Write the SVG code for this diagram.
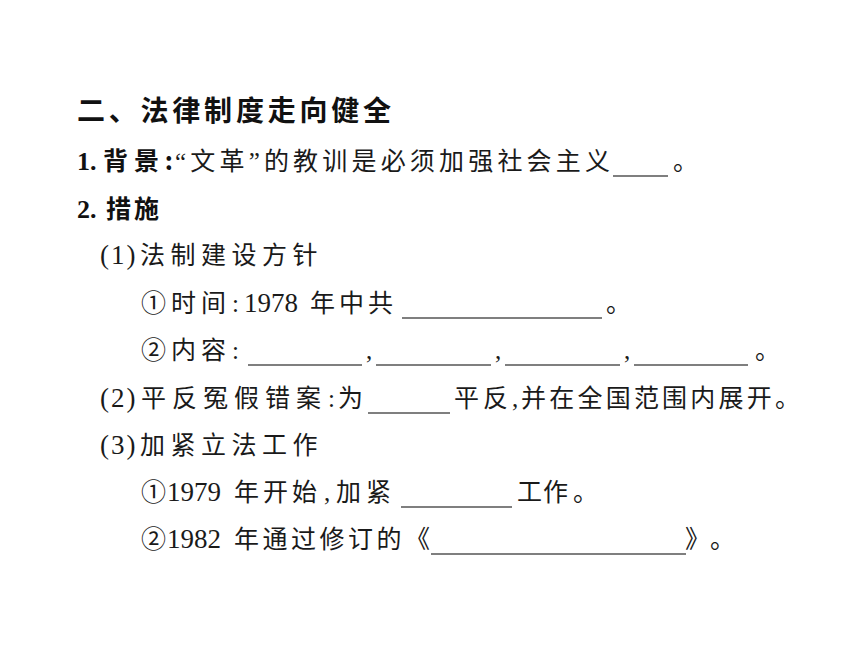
<svg xmlns="http://www.w3.org/2000/svg" width="860" height="645" viewBox="0 0 860 645">
<style>
.t{font-family:"Noto Sans CJK SC","Noto Sans",sans-serif;font-weight:bold;font-size:28px;fill:#111}
.b{font-family:"Liberation Serif","Noto Sans CJK SC",serif;font-size:25px;fill:#1a1a1a}
.n{font-family:"Liberation Serif","Noto Sans CJK SC",serif;font-size:27px;fill:#1a1a1a}
.p{font-family:"Liberation Serif","Noto Sans CJK SC",serif;font-size:27px;fill:#1a1a1a;letter-spacing:2px}
.bb{font-family:"Liberation Serif","Noto Sans CJK SC",serif;font-weight:bold;font-size:26px;fill:#111}
.hb{font-family:"Noto Sans CJK SC",sans-serif;font-weight:bold;font-size:25px;fill:#111}
.u{stroke:#555;stroke-width:1.5;fill:none}
</style>
<rect width="860" height="645" fill="#ffffff"/>
<g id="title">
<text class="t" x="77" y="121" textLength="314" lengthAdjust="spacing">二、法律制度走向健全</text>
</g>
<g id="line1">
<text class="bb" x="77" y="170">1.</text>
<text class="hb" x="103" y="170" textLength="70" lengthAdjust="spacing">背景:</text>
<text class="b" x="175" y="170" textLength="435" lengthAdjust="spacing">“文革”的教训是必须加强社会主义</text>
<line class="u" x1="613" y1="176" x2="668" y2="176"/>
<text class="b" x="673" y="170">。</text>
</g>
<g id="line2">
<text class="bb" x="77" y="218">2.</text>
<text class="hb" x="106" y="218" letter-spacing="3">措施</text>
</g>
<g id="line3">
<text class="p" x="100" y="264">(1)</text>
<text class="b" x="140" y="264" letter-spacing="5.5">法制建设方针</text>
</g>
<g id="line4">
<text class="b" x="141" y="312" letter-spacing="5">①时间</text>
<text class="b" x="232" y="312">:</text>
<text class="n" x="244" y="312">1978</text>
<text class="b" x="310" y="312" letter-spacing="4">年中共</text>
<line class="u" x1="402" y1="318" x2="602" y2="318"/>
<text class="b" x="606" y="312">。</text>
</g>
<g id="line5">
<text class="b" x="141" y="359" letter-spacing="5">②内容</text>
<text class="b" x="232" y="359">:</text>
<line class="u" x1="248" y1="365" x2="362" y2="365"/>
<text class="b" x="366" y="359">,</text>
<line class="u" x1="376" y1="365" x2="491" y2="365"/>
<text class="b" x="495" y="359">,</text>
<line class="u" x1="505" y1="365" x2="620" y2="365"/>
<text class="b" x="624" y="359">,</text>
<line class="u" x1="634" y1="365" x2="748" y2="365"/>
<text class="b" x="755" y="359">。</text>
</g>
<g id="line6">
<text class="p" x="100" y="407">(2)</text>
<text class="b" x="141" y="407" letter-spacing="6">平反冤假错案</text>
<text class="b" x="328" y="407">:</text>
<text class="b" x="338" y="407">为</text>
<line class="u" x1="368" y1="413" x2="450" y2="413"/>
<text class="b" x="454" y="407" letter-spacing="4">平反</text>
<text class="b" x="512" y="407">,</text>
<text class="b" x="521" y="407" textLength="279" lengthAdjust="spacing">并在全国范围内展开。</text>
</g>
<g id="line7">
<text class="p" x="100" y="454">(3)</text>
<text class="b" x="140" y="454" letter-spacing="5.5">加紧立法工作</text>
</g>
<g id="line8">
<text class="b" x="141" y="501">①</text>
<text class="n" x="167" y="501">1979</text>
<text class="b" x="234" y="501" letter-spacing="4">年开始</text>
<text class="b" x="324" y="501">,</text>
<text class="b" x="336" y="501" letter-spacing="5">加紧</text>
<line class="u" x1="401" y1="507" x2="512" y2="507"/>
<text class="b" x="517" y="501" letter-spacing="1">工作</text>
<text class="b" x="573" y="501">。</text>
</g>
<g id="line9">
<text class="b" x="141" y="548">②</text>
<text class="n" x="167" y="548">1982</text>
<text class="b" x="234" y="548" letter-spacing="3.5">年通过修订的</text>
<text class="b" x="405" y="548">《</text>
<line class="u" x1="431" y1="554" x2="686" y2="554"/>
<text class="b" x="685" y="548">》</text>
<text class="b" x="710" y="548">。</text>
</g>
</svg>
